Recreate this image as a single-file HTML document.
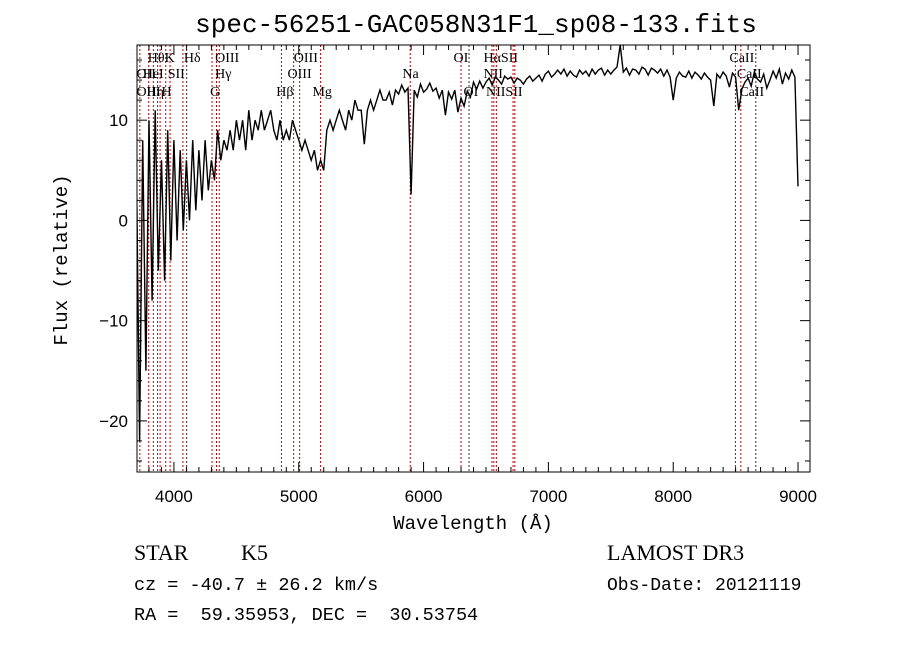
<!DOCTYPE html>
<html><head><meta charset="utf-8"><style>
body{margin:0;background:#fff;}
svg{display:block;}
.serif{font-family:"Liberation Serif",serif;}
.mono{font-family:"Liberation Mono",monospace;white-space:pre;}
.sans{font-family:"Liberation Sans",sans-serif;}
</style></head><body>
<svg id="chart" width="900" height="649" viewBox="0 0 900 649" xmlns="http://www.w3.org/2000/svg">
<rect width="900" height="649" fill="#fff"/>
<text class="mono" x="476" y="32" font-size="26" text-anchor="middle">spec-56251-GAC058N31F1_sp08-133.fits</text>
<g id="lines"></g>
<g id="series"></g>
<g id="axes"></g>
<g id="labels" class="serif" font-size="14"></g>
<text class="mono" x="473" y="529" font-size="19" text-anchor="middle">Wavelength (Å)</text>
<text class="mono" x="0" y="0" font-size="19" text-anchor="middle" transform="translate(67,260) rotate(-90)">Flux (relative)</text>
<text class="serif" x="134" y="560" font-size="22">STAR</text>
<text class="serif" x="241" y="560" font-size="22">K5</text>
<text class="serif" x="607" y="560" font-size="22">LAMOST DR3</text>
<text class="mono" x="134" y="590" font-size="18.5" xml:space="preserve">cz = -40.7 ± 26.2 km/s</text>
<text class="mono" x="607" y="590" font-size="18">Obs-Date: 20121119</text>
<text class="mono" x="134" y="620" font-size="18.5" xml:space="preserve">RA =  59.35953, DEC =  30.53754</text>
</svg>
<script>
const startWave = 3700;
const stepWave = 25;
const flux = [
5,-22,8,-15,10,-8,11,-5,
6,-6,9,-4,8,-2,7,-1,
6,0,8,1,7,2,8,3,
6,4,9,6,8,7,9,7,
10,8,10,7,11,8,10,9,
11,9,10,11,9,8,10,8,
9,8,10,9,8,7,8,7,
6,7,5,6,5,9,10,9,
10,11,10,9,11,10,12,11,
11,7.6,11,12,11,12,13,12,
12,12.8,11.5,13,12.6,13.5,12.8,13.2,
2.6,13,12.3,13.6,12.8,13.1,13.7,12.9,
13.2,12.2,13,10.5,12.8,12.1,13,10.8,
12.2,11.4,12.9,12.3,13.8,13.1,13.9,13.2,
13.8,14.2,13.5,14.3,14.0,13.6,14.4,14.1,
14.3,13.7,14.2,14.0,13.6,14.1,14.4,13.9,
14.2,14.5,13.9,14.6,14.9,14.3,14.6,15.0,
14.6,15.1,14.4,14.9,14.5,14.3,15.0,14.6,
14.9,14.4,15.1,14.6,15.0,15.2,14.5,15.0,
14.6,15.0,15.3,17.5,14.8,15.2,14.5,15.1,
15.0,14.6,15.3,15.1,14.5,15.2,15.0,14.7,
15.1,14.4,15.0,14.3,12.0,14.2,14.8,14.4,
14.3,14.9,14.2,14.8,14.5,14.1,14.7,14.3,
14.0,11.4,14.6,14.2,14.8,14.4,13.3,14.7,
14.3,11.0,13.1,13.8,14.2,13.4,14.8,14.1,
13.8,14.6,13.2,14.0,14.9,14.2,15.1,13.6,
14.7,14.1,15.0,14.3,
3.4];
const xTicks = [4000,5000,6000,7000,8000,9000];
const yTicks = [10,0,-10,-20];
const yTickLabels = ["10","0","\u221210","\u221220"];
const lineWaves = [3727,3798,3835,3869,3889,3934,3969,4072,4102,4305,4341,4363,4861,4959,5007,5175,5893,6300,6364,6548,6563,6583,6717,6731,8498,8542,8662];
const lineBlack = [4102,6364,8662];
const labelTexts = ["H\u03b8","K","H\u03b4","OIII","OIII","OI","H\u03b1SII","CaII","OII","HeI","SII","H\u03b3","OIII","Na","NII","CaII","OIII","H\u03b7","H","G","H\u03b2","Mg","OI","NIISII","CaII"];
const labelWaves = [3790,3925,4080,4330,4960,6240,6480,8450,3700,3750,3950,4330,4910,5830,6480,8510,3700,3780,3900,4290,4820,5110,6320,6500,8530];
const labelRows = [0,0,0,0,0,0,0,0,1,1,1,1,1,1,1,1,2,2,2,2,2,2,2,2,2];

const L=137,R=810,T=45,B=472;
const X0=3704,X1=9096,Y0=-25.1,Y1=17.5;
const xs=w=>L+(w-X0)/(X1-X0)*(R-L);
const ys=f=>B-(f-Y0)/(Y1-Y0)*(B-T);
const NS="http://www.w3.org/2000/svg";
function mk(tag,attrs,parent){const e=document.createElementNS(NS,tag);for(const k in attrs)e.setAttribute(k,attrs[k]);parent.appendChild(e);return e;}

const gl=document.getElementById('lines');
lineWaves.forEach(w=>{
  const black=lineBlack.includes(w);
  const ln=mk('line',{x1:xs(w),x2:xs(w),y1:T,y2:B,stroke:black?'#333':'#c00000','stroke-width':1,'stroke-dasharray':'2,2'},gl);
  
  
});

const gs=document.getElementById('series');
const cp=mk('clipPath',{id:'clip'},gs);
mk('rect',{x:L,y:T,width:R-L,height:B-T},cp);
let d='';
flux.forEach((f,i)=>{d+=(i?'L':'M')+xs(startWave+i*stepWave).toFixed(1)+','+ys(f).toFixed(1);});
const path=mk('path',{d:d,fill:'none',stroke:'#000','stroke-width':1.4,'clip-path':'url(#clip)'},gs);



const ga=document.getElementById('axes');
const frame=mk('rect',{x:L,y:T,width:R-L,height:B-T,fill:'none',stroke:'#000','stroke-width':1},ga);


for(let w=3800;w<=9000;w+=100){
  const len=(w%1000===0)?10:5;
  mk('line',{x1:xs(w),x2:xs(w),y1:B,y2:B-len,stroke:'#000'},ga);
  mk('line',{x1:xs(w),x2:xs(w),y1:T,y2:T+len,stroke:'#000'},ga);
}
xTicks.forEach(w=>{
  const t=mk('text',{x:xs(w),y:502,'font-size':17,'text-anchor':'middle',class:'sans'},ga);
  t.textContent=w;
  
  
});
for(let f=-24;f<=16;f+=2){
  const len=(f%10===0)?10:5;
  mk('line',{x1:L,x2:L+len,y1:ys(f),y2:ys(f),stroke:'#000'},ga);
  mk('line',{x1:R,x2:R-len,y1:ys(f),y2:ys(f),stroke:'#000'},ga);
}
yTicks.forEach((f,i)=>{
  const t=mk('text',{x:128,y:ys(f)+6,'font-size':17,'text-anchor':'end',class:'sans'},ga);
  t.textContent=yTickLabels[i];
  
  
});

const glab=document.getElementById('labels');
const rowY=[62,78,96];
labelTexts.forEach((s,i)=>{
  const t=mk('text',{x:xs(labelWaves[i]),y:rowY[labelRows[i]]},glab);
  t.textContent=s;
  
  
});
</script>
</body></html>
